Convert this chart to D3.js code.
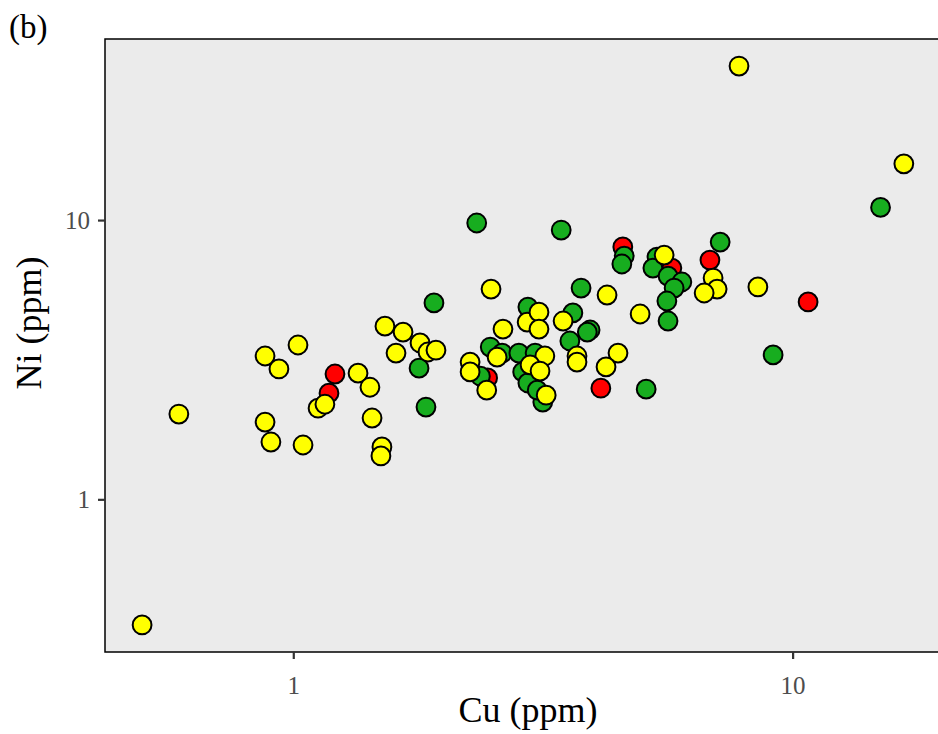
<!DOCTYPE html>
<html>
<head>
<meta charset="utf-8">
<script src="https://cdn.jsdelivr.net/npm/d3@7"></script>
<style>
  body { margin: 0; background: #fff; }
  text { font-family: "Liberation Serif", "Times New Roman", serif; }
</style>
</head>
<body>
<div id="chart"></div>
<script>
// Cu / Ni values (ppm), drawn in this order
var cu = [4.57, 5.73, 2.45,
  1.913, 1.786, 1.844, 2.33, 3.44, 3.77, 4.60, 4.55, 2.95, 3.63, 3.93, 3.88, 3.58,
  2.48, 2.62, 2.83, 3.05, 2.88, 2.95, 3.16, 2.37, 5.35, 5.25, 5.63, 6.00, 5.79,
  5.60, 5.63, 5.09, 7.16, 15.0, 9.14, 3.08,
  6.83, 1.212, 1.179, 4.13, 10.74,
  0.498, 0.590, 0.878, 0.936, 1.022, 0.878, 0.902, 1.046, 1.121, 1.157, 1.348,
  1.424, 1.438, 1.505, 1.498, 1.526, 1.659, 1.606, 1.794, 1.861, 1.931, 2.489,
  2.63, 2.94, 3.105, 3.105, 3.47, 3.70, 3.70, 4.47, 4.23, 4.25, 4.95, 5.53, 6.93,
  7.06, 6.65, 8.52, 7.81, 16.7, 2.26, 2.26, 2.44, 2.56, 3.19, 2.98, 3.12, 3.21];
var ni = [8.01, 6.73, 2.72,
  5.05, 2.95, 2.14, 9.76, 9.21, 5.71, 7.43, 6.96, 4.88, 4.65, 4.04, 3.97, 3.69,
  3.51, 3.34, 3.34, 3.34, 2.86, 2.61, 2.23, 2.76, 7.37, 6.73, 6.30, 6.00, 5.71,
  5.13, 4.35, 2.48, 8.34, 11.1, 3.29, 2.46,
  7.19, 2.81, 2.40, 2.50, 5.09,
  0.355, 2.02, 3.26, 2.93, 3.57, 1.89, 1.604, 1.565, 2.12, 2.19, 2.83,
  2.52, 1.955, 1.54, 1.43, 4.17, 3.97, 3.34, 3.63, 3.37, 3.42, 5.66,
  4.07, 4.31, 4.68, 4.07, 4.35, 3.26, 3.10, 3.34, 2.98, 5.39, 4.61, 7.49, 6.20,
  5.66, 5.48, 5.76, 35.6, 15.9, 3.10, 2.86, 2.46, 3.23, 3.26, 3.03, 2.88, 2.36];
var group = ["R", "R", "R",
  "G", "G", "G", "G", "G", "G", "G", "G", "G", "G", "G", "G", "G",
  "G", "G", "G", "G", "G", "G", "G", "G", "G", "G", "G", "G", "G",
  "G", "G", "G", "G", "G", "G", "G",
  "R", "R", "R", "R", "R",
  "Y", "Y", "Y", "Y", "Y", "Y", "Y", "Y", "Y", "Y", "Y",
  "Y", "Y", "Y", "Y", "Y", "Y", "Y", "Y", "Y", "Y", "Y",
  "Y", "Y", "Y", "Y", "Y", "Y", "Y", "Y", "Y", "Y", "Y", "Y", "Y",
  "Y", "Y", "Y", "Y", "Y", "Y", "Y", "Y", "Y", "Y", "Y", "Y", "Y"];
var groupColors = { R: "#ff0000", G: "#17ad1f", Y: "#ffff00" };
var xTicks = [1, 10];
var yTicks = [1, 10];

var width = 938, height = 734;
var margin = { top: 39, left: 105, bottom: 82, right: 0 };

var svg = d3.select("#chart").append("svg")
    .attr("width", width)
    .attr("height", height);

var x = d3.scaleLog()
    .domain([0.4197, 19.55])
    .range([margin.left, width - margin.right]);

var y = d3.scaleLog()
    .domain([0.284, 44.5])
    .range([height - margin.bottom, margin.top]);

// panel
svg.append("rect")
    .attr("x", margin.left)
    .attr("y", margin.top)
    .attr("width", width - margin.left + 5)
    .attr("height", height - margin.bottom - margin.top)
    .attr("fill", "#ebebeb")
    .attr("stroke", "#000")
    .attr("stroke-width", 1.5);

var xAxis = svg.append("g")
    .attr("transform", "translate(0," + (height - margin.bottom) + ")")
    .call(d3.axisBottom(x).tickValues(xTicks).tickFormat(d3.format("d"))
      .tickSize(7).tickPadding(17));

var yAxis = svg.append("g")
    .attr("transform", "translate(" + margin.left + ",0)")
    .call(d3.axisLeft(y).tickValues(yTicks).tickFormat(d3.format("d"))
      .tickSize(7).tickPadding(8));

[xAxis, yAxis].forEach(function(a) {
  a.select(".domain").remove();
  a.selectAll(".tick line").attr("stroke", "#333").attr("stroke-width", 2.2);
  a.selectAll(".tick text")
      .attr("fill", "#4d4d4d")
      .style("font-size", "25px")
      .style("font-family", "'Liberation Serif', serif");
});

var pts = d3.range(cu.length);

svg.append("g").selectAll("circle")
    .data(pts)
    .enter().append("circle")
    .attr("cx", function(i) { return x(cu[i]); })
    .attr("cy", function(i) { return y(ni[i]); })
    .attr("r", 9.4)
    .attr("fill", function(i) { return groupColors[group[i]]; })
    .attr("stroke", "#000")
    .attr("stroke-width", 2);

svg.append("text")
    .attr("x", 528)
    .attr("y", 722)
    .attr("text-anchor", "middle")
    .style("font-size", "36px")
    .text("Cu (ppm)");

svg.append("text")
    .attr("transform", "translate(41,323) rotate(-90)")
    .attr("text-anchor", "middle")
    .style("font-size", "36px")
    .text("Ni (ppm)");

svg.append("text")
    .attr("x", 9)
    .attr("y", 38)
    .style("font-size", "33px")
    .text("(b)");
</script>
</body>
</html>
